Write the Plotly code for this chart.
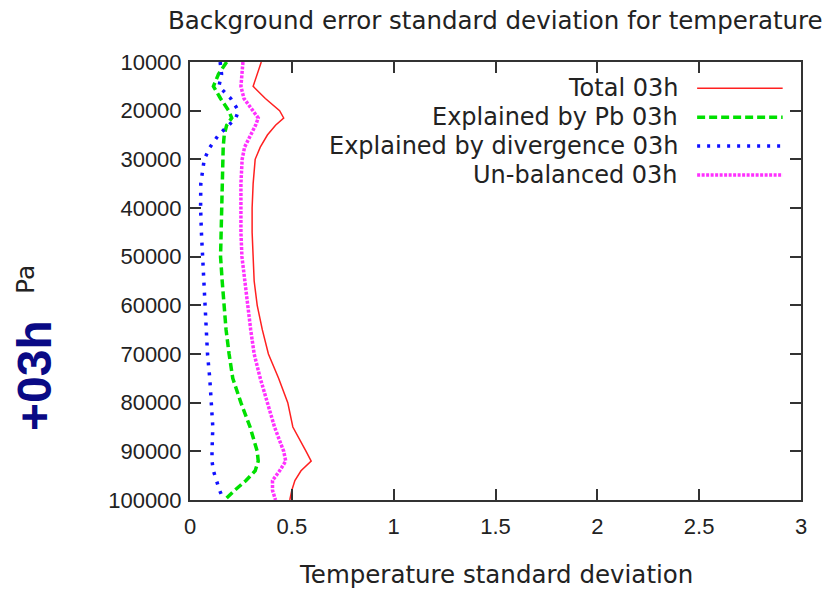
import plotly.graph_objects as go

# Pressure levels (Pa)
pressure = [10000, 12500, 15000, 17500, 20000, 21500, 23000, 25000, 27500, 30000,
            35000, 40000, 45000, 50000, 55000, 60000, 65000, 70000, 75000, 80000,
            85000, 90000, 92000, 94000, 96000, 98000, 100000]

total_03h = [0.35, 0.33, 0.31, 0.37, 0.44, 0.46, 0.42, 0.38, 0.345, 0.32,
             0.31, 0.305, 0.305, 0.31, 0.315, 0.33, 0.355, 0.385, 0.435, 0.48,
             0.505, 0.57, 0.595, 0.545, 0.515, 0.50, 0.49]

pb_03h = [0.18, 0.14, 0.115, 0.15, 0.19, 0.205, 0.18, 0.168, 0.163, 0.162,
          0.16, 0.157, 0.154, 0.15, 0.158, 0.166, 0.177, 0.192, 0.21, 0.25,
          0.295, 0.33, 0.335, 0.32, 0.275, 0.22, 0.17]

div_03h = [0.148, 0.155, 0.142, 0.2, 0.238, 0.225, 0.19, 0.14, 0.098, 0.07,
           0.053, 0.052, 0.056, 0.062, 0.066, 0.07, 0.078, 0.086, 0.097, 0.105,
           0.112, 0.108, 0.108, 0.115, 0.128, 0.145, 0.165]

unbal_03h = [0.26, 0.255, 0.25, 0.265, 0.31, 0.335, 0.322, 0.3, 0.268, 0.256,
             0.25, 0.25, 0.25, 0.255, 0.268, 0.282, 0.298, 0.315, 0.345, 0.38,
             0.415, 0.46, 0.47, 0.44, 0.405, 0.405, 0.42]

series_names = ["Total 03h", "Explained by Pb 03h",
                "Explained by divergence 03h", "Un-balanced 03h"]
series_values = [total_03h, pb_03h, div_03h, unbal_03h]
series_colors = ["#ff2020", "#00e000", "#1010ff", "#ff30ff"]
series_widths = [1.5, 3.5, 3.5, 3.5]
series_dash = ["solid", "8px,4px", "3px,7px", "3px,1.5px"]

x_ticks = [0, 0.5, 1, 1.5, 2, 2.5, 3]
y_ticks = [10000, 20000, 30000, 40000, 50000, 60000, 70000, 80000, 90000, 100000]

TICKFONT = "Liberation Sans, Arial, sans-serif"
TEXTFONT = "DejaVu Sans, Liberation Sans, sans-serif"

fig = go.Figure()
for name, vals, col, w, d in zip(series_names, series_values, series_colors,
                                 series_widths, series_dash):
    fig.add_trace(go.Scatter(x=vals, y=pressure, mode="lines", name=name,
                             line=dict(color=col, width=w, dash=d),
                             showlegend=False))

# Custom gnuplot-style legend: text right-aligned, line sample to the right
legend_y0 = 0.94
legend_dy = 0.066
for i, (name, col, w, d) in enumerate(zip(series_names, series_colors,
                                          series_widths, series_dash)):
    yy = legend_y0 - i * legend_dy
    fig.add_annotation(xref="paper", yref="paper", x=0.802, y=yy,
                       text=name, showarrow=False, xanchor="right",
                       yanchor="middle",
                       font=dict(family=TEXTFONT, size=24, color="#222222"))
    fig.add_shape(type="line", xref="paper", yref="paper",
                  x0=0.83, x1=0.97, y0=yy, y1=yy,
                  line=dict(color=col, width=w, dash=d))

# Titles
fig.add_annotation(xref="paper", yref="paper", x=0.5, y=1.0, yshift=42,
                   text="Background error standard deviation for temperature",
                   showarrow=False, xanchor="center", yanchor="middle",
                   font=dict(family=TEXTFONT, size=24.5, color="#222222"))
fig.add_annotation(xref="paper", yref="paper", x=0.5, y=0, yshift=-74,
                   text="Temperature standard deviation",
                   showarrow=False, xanchor="center", yanchor="middle",
                   font=dict(family=TEXTFONT, size=24.5, color="#222222"))
fig.add_annotation(xref="paper", yref="paper", x=0, y=0.5, xshift=-165,
                   yshift=1,
                   text="Pa", textangle=-90, showarrow=False,
                   xanchor="center", yanchor="middle",
                   font=dict(family=TEXTFONT, size=25, color="#222222"))
fig.add_annotation(xref="paper", yref="paper", x=0, y=0.5, xshift=-156,
                   yshift=-95,
                   text="<b>+03h</b>", textangle=-90, showarrow=False,
                   xanchor="center", yanchor="middle",
                   font=dict(family=TICKFONT, size=48, color="#0a0a85"))

axis_common = dict(showgrid=False, zeroline=False, showline=True,
                   linecolor="#333333", linewidth=2, mirror="ticks",
                   ticks="inside", ticklen=11, tickwidth=1.5,
                   tickcolor="#333333",
                   tickfont=dict(family=TICKFONT, size=22, color="#222222"))

fig.update_xaxes(range=[0, 3], tickvals=x_ticks,
                 ticktext=[("%g" % v) for v in x_ticks],
                 ticklabelstandoff=6, **axis_common)
fig.update_yaxes(range=[100000, 10000], tickvals=y_ticks,
                 ticktext=[str(v) for v in y_ticks],
                 ticklabelstandoff=2, **axis_common)

fig.update_layout(width=824, height=589,
                  margin=dict(l=190, r=23, t=62, b=89),
                  plot_bgcolor="white", paper_bgcolor="white",
                  showlegend=False)

fig.write_html("out.html")
